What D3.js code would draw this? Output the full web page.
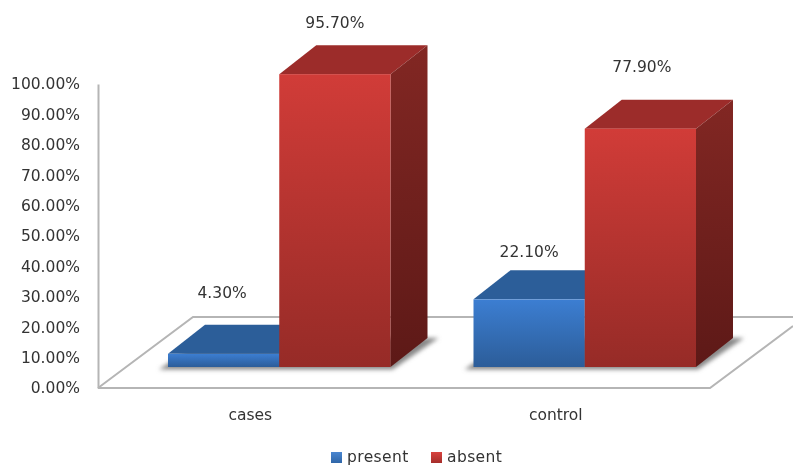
<!DOCTYPE html>
<html>
<head>
    <title></title>
    <meta charset="utf-8">
    <style>
        html, body { margin: 0; padding: 0; background: #fff; }
        svg { display: block; filter: blur(0.4px); }
        text { font-family: 'DejaVu Sans', sans-serif; fill: #333; }
    </style>
</head>
<body>
<script src="https://d3js.org/d3.v7.min.js"></script>
<script>
    var categories = ['cases', 'control'];
    var series = ['present', 'absent'];
    var present = [4.3, 22.1];
    var absent = [95.7, 77.9];
    var tickValues = [0, 10, 20, 30, 40, 50, 60, 70, 80, 90, 100];

    // labels were hand placed in the original, so each has its own lift above the bar
    var labelLift = { present: [62, 48], absent: [52, 63] };
    var labelShift = { present: [-1.5, 0], absent: [0, 1.5] };

    var depth = { x: 37, y: -29 };
    var baseY = 367;

    var svg = d3.select('body').append('svg')
        .attr('width', 793)
        .attr('height', 466);

    var defs = svg.append('defs');

    function gradient(id, top, bottom) {
        var g = defs.append('linearGradient').attr('id', id)
            .attr('x1', 0).attr('y1', 0)
            .attr('x2', 0).attr('y2', 1);
        g.append('stop').attr('offset', '0%').attr('stop-color', top);
        g.append('stop').attr('offset', '100%').attr('stop-color', bottom);
    }
    gradient('presentFront', '#3C7ED2', '#2C5D99');
    gradient('absentFront', '#D13C38', '#962B27');
    gradient('presentSide', '#2A5486', '#1E3F66');
    gradient('absentSide', '#822723', '#5D1917');
    gradient('legendPresent', '#4A86D0', '#2F66A8');
    gradient('legendAbsent', '#D8433F', '#A52E2B');

    defs.append('filter').attr('id', 'soft')
        .attr('x', '-20%').attr('y', '-20%').attr('width', '140%').attr('height', '140%')
        .append('feGaussianBlur').attr('stdDeviation', 2.2);

    var topColor = { present: '#2C5E99', absent: '#9C2C2A' };

    var x0 = d3.scaleBand().domain(categories).range([168, 779]);
    var x1 = d3.scaleBand().domain(series).range([0, 222.5]);
    var y = d3.scaleLinear().domain([0, 100]).range([baseY, baseY - 306]);
    var yAxisScale = d3.scaleLinear().domain([0, 100]).range([388, 84]);

    // floor of the 3d plot
    var line = d3.line();
    svg.append('path')
        .attr('d', line([[98, 388], [193, 317], [793, 317]]))
        .attr('fill', 'none').attr('stroke', '#b5b5b5').attr('stroke-width', 2);
    svg.append('path')
        .attr('d', line([[98, 388], [710, 388], [793, 326]]))
        .attr('fill', 'none').attr('stroke', '#b5b5b5').attr('stroke-width', 2);

    var yAxis = svg.append('g')
        .attr('transform', 'translate(98,0)')
        .call(d3.axisLeft(yAxisScale)
            .tickValues(tickValues)
            .tickSize(0)
            .tickPadding(18)
            .tickFormat(function (d) { return d3.format('.2f')(d) + '%'; }));
    yAxis.select('.domain').attr('stroke', '#b5b5b5').attr('stroke-width', 2);
    yAxis.selectAll('text').style('font-size', '15.5px').attr('fill', null);

    var rows = categories.map(function (c, i) {
        return { category: c, i: i, bars: [
            { key: 'present', value: present[i], i: i },
            { key: 'absent', value: absent[i], i: i }
        ] };
    });

    var group = svg.selectAll('g.group').data(rows).enter()
        .append('g').attr('class', 'group')
        .attr('transform', function (d) { return 'translate(' + x0(d.category) + ',0)'; });

    // shadow on the floor, under the whole group
    group.append('path')
        .attr('d', function () {
            var w = x1.range()[1];
            return line([[-9, baseY + 2.5], [w + 2, baseY + 2.5],
                [w + depth.x + 11, baseY + depth.y], [depth.x, baseY + depth.y]]) + 'Z';
        })
        .attr('fill', '#888')
        .attr('filter', 'url(#soft)');

    var bars = group.selectAll('g.bar').data(function (d) { return d.bars; }).enter()
        .append('g').attr('class', 'bar');

    bars.append('path') // top face
        .attr('d', function (d) {
            var a = x1(d.key), b = a + x1.bandwidth(), t = y(d.value);
            return line([[a, t], [b, t], [b + depth.x, t + depth.y], [a + depth.x, t + depth.y]]) + 'Z';
        })
        .attr('fill', function (d) { return topColor[d.key]; });

    bars.append('path') // side face
        .attr('d', function (d) {
            var b = x1(d.key) + x1.bandwidth(), t = y(d.value);
            return line([[b, t], [b + depth.x, t + depth.y], [b + depth.x, baseY + depth.y], [b, baseY]]) + 'Z';
        })
        .attr('fill', function (d) { return 'url(#' + d.key + 'Side)'; });

    bars.append('rect') // front face
        .attr('x', function (d) { return x1(d.key); })
        .attr('y', function (d) { return y(d.value); })
        .attr('width', x1.bandwidth())
        .attr('height', function (d) { return baseY - y(d.value); })
        .attr('fill', function (d) { return 'url(#' + d.key + 'Front)'; });

    bars.append('text')
        .attr('x', function (d) { return x1(d.key) + x1.bandwidth() / 2 + labelShift[d.key][d.i]; })
        .attr('y', function (d) { return y(d.value) - labelLift[d.key][d.i] + 6; })
        .attr('text-anchor', 'middle')
        .style('font-size', '15.5px')
        .text(function (d) { return d3.format('.2f')(d.value) + '%'; });

    group.append('text')
        .attr('x', x1.range()[1] / 2 - 29)
        .attr('y', 420)
        .attr('text-anchor', 'middle')
        .style('font-size', '15.5px')
        .text(function (d) { return d.category; });

    // legend
    var legendX = d3.scaleOrdinal().domain(series).range([331, 431]);
    var legend = svg.selectAll('g.legend').data(series).enter()
        .append('g').attr('class', 'legend')
        .attr('transform', function (d) { return 'translate(' + legendX(d) + ',452)'; });
    legend.append('rect')
        .attr('width', 11).attr('height', 11)
        .attr('fill', function (d) { return d === 'present' ? 'url(#legendPresent)' : 'url(#legendAbsent)'; });
    legend.append('text')
        .attr('x', 16).attr('y', 10)
        .style('font-size', '15.5px')
        .style('letter-spacing', '0.4px')
        .text(function (d) { return d; });
</script>
</body>
</html>
